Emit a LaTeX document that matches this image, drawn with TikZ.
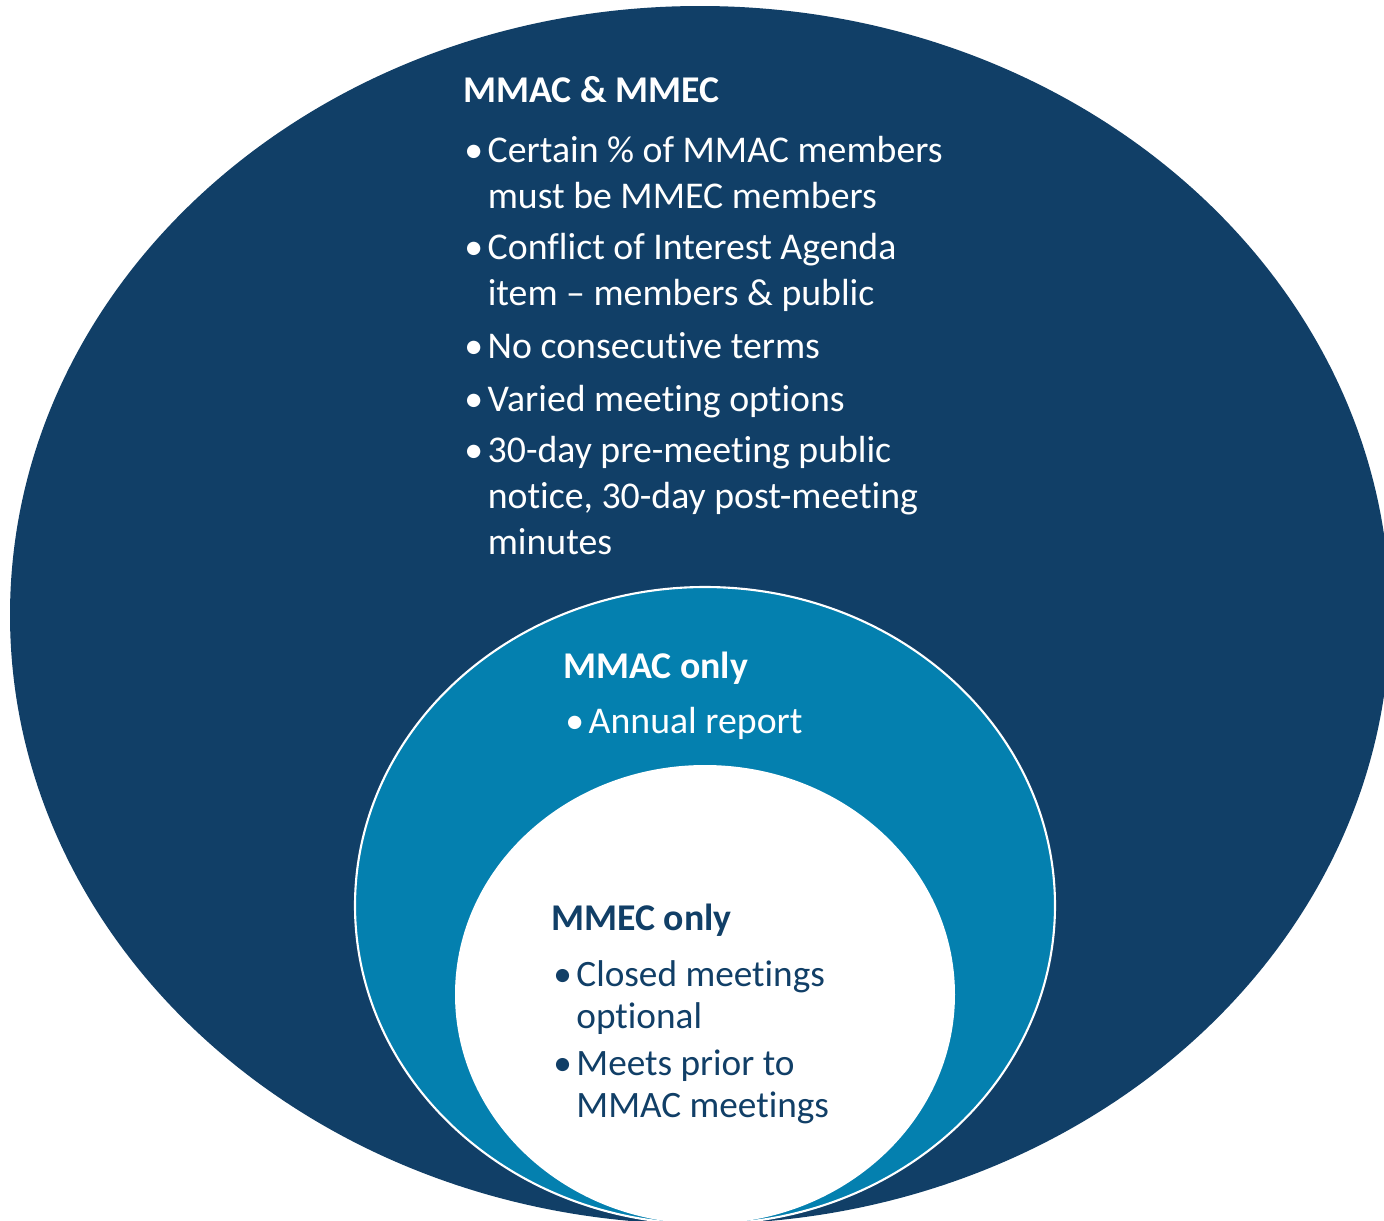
\documentclass[tikz,border=0pt]{standalone}
\usepackage{fontspec}
\setmainfont{Carlito}[Ligatures={NoCommon}]
\definecolor{mmacnavy}{RGB}{17,63,103}
\definecolor{mmacblue}{RGB}{4,128,175}
\newcommand{\bul}{\makebox[0.62em][l]{\textbullet}}
\newcommand{\ind}{\hspace*{0.62em}}
\tikzset{
  big/.style={font=\fontsize{21.5}{26.1}\selectfont},
  small/.style={font=\fontsize{21.2}{23.8}\selectfont},
  txt/.style={anchor=base west, align=left, inner sep=0pt, text=white},
  head/.style={txt, font=\bfseries},
}
\begin{document}
\begin{tikzpicture}[x=0.02cm,y=-0.02cm]
	\useasboundingbox (0,0) rectangle (1384,1221);
	\clip (0,0) rectangle (1384,1221);
	% rings
	\fill[mmacnavy] (700,615) ellipse (690 and 609);
	\draw[fill=mmacblue,draw=white,line width=1.2pt] (705,905.5) ellipse (350 and 318.5);
	\fill[white] (705,994.5) ellipse (250 and 229.5);
	% MMAC & MMEC (base = last line)
	\node[head,big] (hdboth) at (463,102) {\bfseries MMAC \& MMEC};
	\node[txt,big] (both1) at (464,208) {\bul Certain \% of MMAC members\\ \ind must be MMEC members};
	\node[txt,big] (both2) at (464,305) {\bul Conflict of Interest Agenda\\ \ind item -- members \& public};
	\node[txt,big] (both3) at (464,358) {\bul No consecutive terms};
	\node[txt,big] (both4) at (464,411) {\bul Varied meeting options};
	\node[txt,big] (both5) at (464,554) {\bul 30-day pre-meeting public\\ \ind notice, 30-day post-meeting\\ \ind minutes};
	% MMAC only
	\node[head,big] (hdmmac) at (563,678) {\bfseries MMAC only};
	\node[txt,big] (mmac1) at (565,733) {\bul Annual report};
	% MMEC only
	\node[head,big,text=mmacnavy] (hdmmec) at (551,930) {\bfseries MMEC only};
	\node[txt,small,text=mmacnavy] (mmec1) at (553,1028) {\bul Closed meetings\\ \ind optional};
	\node[txt,small,text=mmacnavy] (mmec2) at (553,1117) {\bul Meets prior to\\ \ind MMAC meetings};
\end{tikzpicture}
\end{document}
